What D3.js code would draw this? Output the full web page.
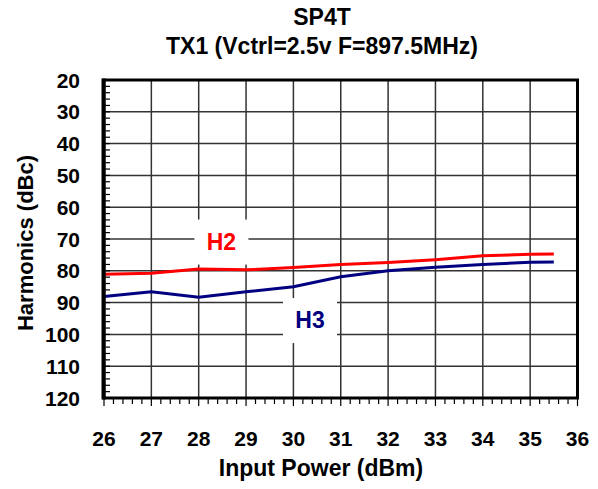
<!DOCTYPE html>
<html><head><meta charset="utf-8">
<script src="https://cdn.jsdelivr.net/npm/d3@7/dist/d3.min.js"></script>
<style>body{margin:0;background:#fff}svg{display:block}text{font-family:Arial,"Liberation Sans",sans-serif;font-weight:bold}</style>
</head><body><svg id="c" width="598" height="489"></svg>
<script>
const inputPower = [26, 27, 28, 29, 30, 31, 32, 33, 34, 35, 35.5];
const h2 = [81.1, 80.8, 79.4, 79.7, 79.0, 78.0, 77.4, 76.5, 75.3, 74.8, 74.7];
const h3 = [88.1, 86.6, 88.3, 86.6, 85.0, 81.9, 80.0, 78.9, 78.0, 77.3, 77.2];
const xTicks = [26, 27, 28, 29, 30, 31, 32, 33, 34, 35, 36];
const yTicks = [20, 30, 40, 50, 60, 70, 80, 90, 100, 110, 120];
const seriesLabels = [{name: "H2", x: 28.48, y: 70.8}, {name: "H3", x: 30.35, y: 95.5}];

const svg = d3.select("#c");
const L = 104, R = 577.5, T = 80, B = 398;
const x = d3.scaleLinear().domain([26, 36]).range([L, R]);
const y = d3.scaleLinear().domain([20, 120]).range([T, B]);

// gridlines
const g = svg.append("g");
g.selectAll(".vg").data(xTicks.slice(1, -1)).join("line")
  .attr("x1", d => x(d)).attr("x2", d => x(d)).attr("y1", T).attr("y2", B)
  .attr("stroke", "#333").attr("stroke-width", 1.5);
g.selectAll(".hg").data(yTicks.slice(1, -1)).join("line")
  .attr("x1", L).attr("x2", R).attr("y1", d => y(d)).attr("y2", d => y(d))
  .attr("stroke", "#333").attr("stroke-width", 1.5);

// minor ticks left (inside)
const yMinor = d3.range(20, 121, 2);
svg.append("g").selectAll("line").data(yMinor).join("line")
  .attr("x1", L).attr("x2", L + 6).attr("y1", d => y(d)).attr("y2", d => y(d))
  .attr("stroke", "#000").attr("stroke-width", 1.2);
// bottom ticks (outside)
const xMinor = d3.range(0, 51).map(i => 26 + i * 0.2);
svg.append("g").selectAll("line").data(xMinor).join("line")
  .attr("x1", d => x(d)).attr("x2", d => x(d)).attr("y1", B)
  .attr("y2", (d, i) => B + (i % 5 === 0 ? 8 : 6))
  .attr("stroke", "#000").attr("stroke-width", 1.2);

// series label boxes (cover gridlines)
const colors = {H2: "#ff0000", H3: "#000080"};
seriesLabels.forEach(s => {
  svg.append("rect").attr("x", x(s.x) - 27).attr("y", y(s.y) - 22).attr("width", 54).attr("height", 45).attr("fill", "#fff");
});

// series lines
const line = d3.line().x(d => x(d[0])).y(d => y(d[1]));
svg.append("path").datum(inputPower.map((p, i) => [p, h2[i]]))
  .attr("d", line).attr("fill", "none").attr("stroke", "#ff0000").attr("stroke-width", 3);
svg.append("path").datum(inputPower.map((p, i) => [p, h3[i]]))
  .attr("d", line).attr("fill", "none").attr("stroke", "#000080").attr("stroke-width", 3);

seriesLabels.forEach(s => {
  svg.append("text").attr("x", x(s.x)).attr("y", y(s.y)).attr("dy", "0.36em").attr("text-anchor", "middle")
    .attr("font-size", 23).attr("fill", colors[s.name]).text(s.name);
});

// frame
svg.append("rect").attr("x", L).attr("y", T).attr("width", R - L).attr("height", B - T)
  .attr("fill", "none").attr("stroke", "#000").attr("stroke-width", 3);
svg.append("line").attr("x1", L - 0.5).attr("x2", L - 0.5).attr("y1", T - 1.5).attr("y2", B + 1.5)
  .attr("stroke", "#000").attr("stroke-width", 4);

// tick labels
svg.append("g").selectAll("text").data(yTicks).join("text")
  .attr("x", 80).attr("y", d => y(d)).attr("dy", "0.36em").attr("text-anchor", "end")
  .attr("font-size", 21).text(d => d);
svg.append("g").selectAll("text").data(xTicks).join("text")
  .attr("x", d => x(d)).attr("y", 446).attr("text-anchor", "middle")
  .attr("font-size", 21).text(d => d);

// titles
svg.append("text").attr("x", 322).attr("y", 25).attr("text-anchor", "middle").attr("font-size", 23).text("SP4T");
svg.append("text").attr("x", 322).attr("y", 54).attr("text-anchor", "middle").attr("font-size", 23).text("TX1 (Vctrl=2.5v F=897.5MHz)");
svg.append("text").attr("x", 321).attr("y", 476).attr("text-anchor", "middle").attr("font-size", 23).text("Input Power (dBm)");
svg.append("text").attr("transform", "translate(33,243) rotate(-90)").attr("text-anchor", "middle").attr("font-size", 22).text("Harmonics (dBc)");
</script></body></html>
